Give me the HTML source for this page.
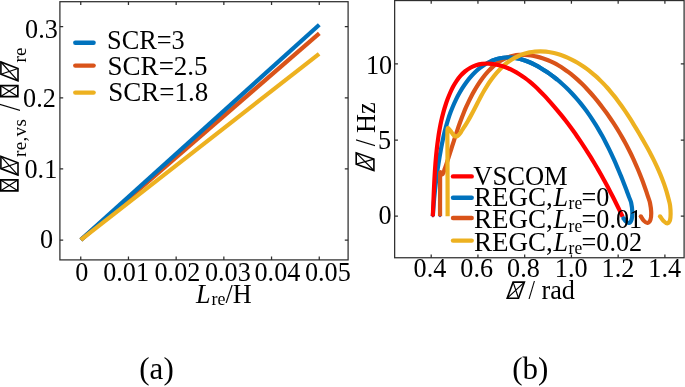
<!DOCTYPE html>
<html><head><meta charset="utf-8"><title>figure</title>
<style>
html,body{margin:0;padding:0;background:#fff;}
body{width:685px;height:387px;overflow:hidden;font-family:"Liberation Serif",serif;}
svg{display:block;will-change:transform;}
text,.t{font-family:"Liberation Serif",serif;}
</style></head><body>
<svg width="685" height="387" viewBox="0 0 685 387">
<rect width="685" height="387" fill="#fff"/>
<g fill="none" stroke="#2e2e2e" stroke-width="1.25">
<rect x="59.90" y="1.70" width="288.20" height="258.20"/>
<path d="M80.75 259.90 v-3.30 M80.75 1.70 v3.30 M128.45 259.90 v-3.30 M128.45 1.70 v3.30 M176.15 259.90 v-3.30 M176.15 1.70 v3.30 M223.85 259.90 v-3.30 M223.85 1.70 v3.30 M271.55 259.90 v-3.30 M271.55 1.70 v3.30 M319.25 259.90 v-3.30 M319.25 1.70 v3.30 M59.90 240.15 h3.30 M348.10 240.15 h-3.30 M59.90 168.95 h3.30 M348.10 168.95 h-3.30 M59.90 97.75 h3.30 M348.10 97.75 h-3.30 M59.90 26.55 h3.30 M348.10 26.55 h-3.30"/>
</g>
<g fill="none" stroke-width="4.2" stroke-linecap="butt">
<path d="M80.85 239.9 L319.30 33.30" stroke="#D95319"/>
<path d="M80.85 239.9 L319.30 24.70" stroke="#0072BD"/>
<path d="M80.85 239.9 L319.10 53.80" stroke="#EDB120"/>
</g>
<g class="t" fill="#000">
<text transform="translate(75.20 281.10) scale(0.970 1.050)" font-size="27" text-anchor="start">0</text>
<text transform="translate(103.20 281.10) scale(0.970 1.050)" font-size="27" text-anchor="start">0.01</text>
<text transform="translate(154.50 281.10) scale(0.970 1.050)" font-size="27" text-anchor="start">0.02</text>
<text transform="translate(204.90 281.10) scale(0.970 1.050)" font-size="27" text-anchor="start">0.03</text>
<text transform="translate(254.50 281.10) scale(0.970 1.050)" font-size="27" text-anchor="start">0.04</text>
<text transform="translate(304.90 281.10) scale(0.970 1.050)" font-size="27" text-anchor="start">0.05</text>
<text transform="translate(25.10 38.10) scale(0.970 1.050)" font-size="27" text-anchor="start">0.3</text>
<text transform="translate(23.10 107.10) scale(0.970 1.050)" font-size="27" text-anchor="start">0.2</text>
<text transform="translate(24.50 177.90) scale(0.970 1.050)" font-size="27" text-anchor="start">0.1</text>
<text transform="translate(40.10 248.40) scale(0.970 1.050)" font-size="27" text-anchor="start">0</text>
<text transform="translate(196.00 302.90) scale(0.970 1.000)" font-size="27" text-anchor="start"><tspan font-style="italic">L</tspan><tspan font-size="18.5" dx="1" dy="2.3">re</tspan><tspan dy="-2.3">/H</tspan></text>
<text transform="translate(107.00 49.00) scale(0.975 1.000)" font-size="27" text-anchor="start">SCR=3</text>
<text transform="translate(107.60 74.90) scale(1.000 1.000)" font-size="27" text-anchor="start">SCR=2.5</text>
<text transform="translate(108.20 101.00) scale(1.000 1.000)" font-size="27" text-anchor="start">SCR=1.8</text>
</g>
<g fill="none" stroke-width="4.4" stroke-linecap="round">
<path d="M75.3 42.80 H93.6" stroke="#0072BD"/>
<path d="M75.3 65.60 H93.6" stroke="#D95319"/>
<path d="M75.3 92.60 H93.6" stroke="#EDB120"/>
</g>
<g class="t" transform="translate(18.7 0.5) rotate(-90)">
<g transform="translate(-191.2 0)"><g fill="none" stroke="#000"><path d="M0.85 -0.85 H11.75 V-18.05 H0.85 Z" stroke-width="1.70"/><path d="M0.85 -0.85 L11.75 -18.05 M0.85 -18.05 L11.75 -0.85" stroke-width="1.20"/></g></g>
<g transform="translate(-174.6 0)"><g fill="none" stroke="#000"><path d="M0 -0.7 L12.30 -0.7 L18.80 -17.80 L6.50 -17.80 Z" stroke-width="1.60"/><path d="M0 -0.7 L18.80 -17.80 M12.30 -0.7 L6.50 -17.80" stroke-width="1.20"/></g></g>
<text transform="translate(-156.50 7.30) scale(1.000 1.000)" font-size="19" text-anchor="start" letter-spacing="0.35">re,vs</text>
<text transform="translate(-110.50 0.80) scale(0.850 1.000)" font-size="32" text-anchor="start">/</text>
<g transform="translate(-96.9 0)"><g fill="none" stroke="#000"><path d="M0.85 -0.85 H11.75 V-18.05 H0.85 Z" stroke-width="1.70"/><path d="M0.85 -0.85 L11.75 -18.05 M0.85 -18.05 L11.75 -0.85" stroke-width="1.20"/></g></g>
<g transform="translate(-80.3 0)"><g fill="none" stroke="#000"><path d="M0 -0.7 L12.30 -0.7 L18.80 -17.80 L6.50 -17.80 Z" stroke-width="1.60"/><path d="M0 -0.7 L18.80 -17.80 M12.30 -0.7 L6.50 -17.80" stroke-width="1.20"/></g></g>
<text transform="translate(-61.90 7.30) scale(1.000 1.000)" font-size="19" text-anchor="start">re</text>
</g>
<g fill="none" stroke="#2e2e2e" stroke-width="1.25">
<rect x="394.65" y="0.55" width="289.45" height="257.20"/>
<path d="M431.20 257.75 v-3.30 M431.20 0.55 v3.30 M477.94 257.75 v-3.30 M477.94 0.55 v3.30 M524.68 257.75 v-3.30 M524.68 0.55 v3.30 M571.42 257.75 v-3.30 M571.42 0.55 v3.30 M618.16 257.75 v-3.30 M618.16 0.55 v3.30 M664.90 257.75 v-3.30 M664.90 0.55 v3.30 M394.65 216.10 h3.30 M684.10 216.10 h-3.30 M394.65 140.00 h3.30 M684.10 140.00 h-3.30 M394.65 63.90 h3.30 M684.10 63.90 h-3.30"/>
</g>
<ellipse cx="440.0" cy="216.3" rx="1.1" ry="0.9" fill="#4B3FBF"/><ellipse cx="432.8" cy="216.4" rx="1.2" ry="0.9" fill="#C8001E"/>
<g fill="none" stroke-width="4.2" stroke-linecap="butt" stroke-linejoin="round">
<path d="M432.84 216.20C432.91 215.11 433.11 211.84 433.27 209.65C433.42 207.47 433.59 205.27 433.77 203.07C433.96 200.88 434.15 198.67 434.36 196.47C434.57 194.26 434.79 192.05 435.03 189.84C435.27 187.63 435.52 185.42 435.78 183.21C436.05 181.00 436.32 178.79 436.62 176.59C436.91 174.38 437.21 172.17 437.53 169.97C437.85 167.77 438.18 165.57 438.52 163.38C438.86 161.19 439.22 159.01 439.59 156.83C439.96 154.65 440.34 152.48 440.74 150.32C441.14 148.16 441.54 146.00 441.97 143.86C442.40 141.72 442.85 139.58 443.32 137.46C443.79 135.33 444.28 133.22 444.81 131.11C445.34 129.00 445.89 126.90 446.49 124.81C447.08 122.72 447.71 120.63 448.38 118.56C449.06 116.48 449.77 114.42 450.54 112.36C451.30 110.30 452.11 108.25 452.98 106.20C453.85 104.16 454.76 102.12 455.75 100.09C456.73 98.07 457.77 96.04 458.87 94.04C459.98 92.05 461.14 90.07 462.36 88.14C463.59 86.21 464.87 84.31 466.22 82.47C467.56 80.64 468.97 78.85 470.44 77.15C471.90 75.45 473.43 73.80 475.02 72.26C476.61 70.72 478.26 69.26 479.97 67.91C481.68 66.57 483.45 65.31 485.28 64.20C487.12 63.08 489.01 62.07 490.97 61.21C492.92 60.35 494.95 59.63 497.01 59.05C499.07 58.48 501.19 58.05 503.32 57.78C505.45 57.51 507.62 57.39 509.78 57.44C511.94 57.49 514.11 57.71 516.26 58.08C518.41 58.44 520.55 59.00 522.66 59.66C524.78 60.31 526.88 61.13 528.94 62.01C531.00 62.89 533.05 63.89 535.05 64.93C537.05 65.97 539.02 67.08 540.94 68.23C542.87 69.37 544.76 70.57 546.62 71.80C548.47 73.03 550.29 74.31 552.07 75.63C553.85 76.95 555.59 78.31 557.30 79.70C559.01 81.10 560.68 82.53 562.33 84.00C563.97 85.47 565.57 86.97 567.15 88.51C568.72 90.04 570.26 91.61 571.77 93.21C573.27 94.81 574.75 96.43 576.19 98.09C577.64 99.74 579.05 101.42 580.43 103.13C581.81 104.83 583.16 106.56 584.48 108.31C585.81 110.06 587.10 111.84 588.36 113.64C589.63 115.43 590.87 117.25 592.08 119.09C593.29 120.93 594.48 122.78 595.64 124.66C596.80 126.53 597.93 128.42 599.04 130.33C600.16 132.24 601.24 134.17 602.31 136.10C603.38 138.04 604.42 140.00 605.44 141.96C606.46 143.93 607.47 145.91 608.45 147.90C609.43 149.88 610.39 151.89 611.34 153.89C612.28 155.90 613.21 157.92 614.12 159.95C615.03 161.97 615.92 164.01 616.80 166.05C617.68 168.09 618.54 170.13 619.38 172.18C620.23 174.23 621.07 176.28 621.89 178.34C622.71 180.39 623.51 182.45 624.31 184.51C625.11 186.56 625.89 188.62 626.67 190.68C627.44 192.74 628.21 194.79 628.96 196.85C629.72 198.90 630.65 200.47 631.21 203.00C631.76 205.52 632.23 209.23 632.30 212.00C632.37 214.77 632.17 217.77 631.60 219.60C631.03 221.43 629.90 222.73 628.90 223.00C627.90 223.27 626.53 222.03 625.60 221.20C624.67 220.37 623.68 218.53 623.30 218.00" stroke="#0072BD"/><circle cx="623.30" cy="218.00" r="2.1" fill="#0072BD" stroke="none"/>
<path d="M440.05 216.20C440.05 213.50 440.04 205.20 440.05 200.00C440.06 194.80 440.09 189.00 440.10 185.00C440.11 181.00 440.07 178.12 440.10 176.00C440.13 173.88 440.10 172.82 440.30 172.30C440.50 171.78 440.95 172.57 441.30 172.90C441.65 173.23 442.02 174.42 442.40 174.30C442.78 174.18 443.23 173.03 443.60 172.20C443.97 171.37 444.11 170.74 444.60 169.30C445.10 167.87 445.92 165.50 446.57 163.59C447.21 161.69 447.83 159.78 448.45 157.88C449.07 155.97 449.68 154.06 450.29 152.16C450.90 150.26 451.49 148.35 452.10 146.45C452.70 144.55 453.30 142.65 453.90 140.76C454.51 138.86 455.11 136.97 455.73 135.08C456.34 133.19 456.97 131.31 457.60 129.43C458.24 127.55 458.88 125.68 459.55 123.81C460.21 121.95 460.89 120.09 461.59 118.23C462.29 116.38 463.01 114.54 463.76 112.70C464.50 110.86 465.27 109.03 466.07 107.21C466.87 105.40 467.69 103.59 468.55 101.79C469.41 99.99 470.30 98.20 471.23 96.42C472.16 94.65 473.12 92.88 474.13 91.13C475.13 89.38 476.18 87.63 477.27 85.91C478.36 84.18 479.50 82.46 480.68 80.78C481.87 79.09 483.10 77.42 484.38 75.81C485.67 74.20 487.00 72.62 488.38 71.12C489.77 69.62 491.20 68.16 492.69 66.82C494.18 65.47 495.72 64.18 497.32 63.02C498.92 61.86 500.57 60.78 502.28 59.85C504.00 58.91 505.77 58.08 507.59 57.41C509.42 56.73 511.31 56.19 513.23 55.78C515.15 55.38 517.12 55.11 519.09 54.96C521.07 54.81 523.08 54.80 525.07 54.89C527.06 54.97 529.07 55.20 531.03 55.49C533.00 55.78 534.95 56.18 536.87 56.63C538.79 57.09 540.68 57.63 542.54 58.24C544.41 58.85 546.24 59.53 548.05 60.28C549.86 61.03 551.64 61.85 553.40 62.72C555.16 63.60 556.88 64.54 558.59 65.53C560.29 66.53 561.97 67.58 563.62 68.68C565.27 69.79 566.89 70.94 568.50 72.14C570.10 73.34 571.67 74.59 573.22 75.88C574.77 77.17 576.30 78.50 577.80 79.86C579.30 81.23 580.77 82.63 582.23 84.06C583.68 85.50 585.11 86.96 586.51 88.45C587.92 89.94 589.30 91.45 590.66 92.99C592.02 94.52 593.35 96.08 594.67 97.65C595.98 99.22 597.27 100.81 598.54 102.40C599.80 104.00 601.05 105.60 602.27 107.22C603.50 108.83 604.70 110.45 605.88 112.08C607.06 113.71 608.22 115.34 609.36 116.99C610.50 118.63 611.62 120.28 612.71 121.95C613.81 123.61 614.89 125.28 615.94 126.95C617.00 128.63 618.04 130.32 619.06 132.02C620.08 133.71 621.07 135.42 622.05 137.13C623.03 138.84 623.99 140.56 624.94 142.30C625.88 144.03 626.80 145.77 627.71 147.52C628.62 149.27 629.50 151.03 630.37 152.80C631.25 154.56 632.10 156.34 632.94 158.13C633.77 159.92 634.59 161.72 635.39 163.52C636.20 165.33 636.98 167.15 637.76 168.98C638.53 170.80 639.28 172.64 640.02 174.49C640.76 176.34 641.48 178.19 642.19 180.06C642.90 181.93 643.59 183.81 644.27 185.70C644.95 187.59 645.62 189.49 646.27 191.40C646.92 193.31 647.56 195.24 648.18 197.17C648.80 199.10 649.51 200.53 650.01 203.00C650.51 205.47 651.12 209.23 651.20 212.00C651.28 214.77 651.13 217.77 650.50 219.60C649.87 221.43 648.53 222.83 647.40 223.00C646.27 223.17 644.80 221.72 643.70 220.60C642.60 219.48 641.28 217.02 640.80 216.30" stroke="#D95319"/><circle cx="640.80" cy="216.30" r="2.1" fill="#D95319" stroke="none"/>
<path d="M490.97 61.21C491.97 60.85 494.95 59.63 497.01 59.05C499.07 58.48 501.19 58.05 503.32 57.78C505.45 57.51 507.62 57.39 509.78 57.44C511.94 57.49 514.11 57.71 516.26 58.08C518.41 58.44 520.55 59.00 522.66 59.66C524.78 60.31 526.88 61.13 528.94 62.01C531.00 62.89 533.05 63.89 535.05 64.93C537.05 65.97 539.02 67.08 540.94 68.23C542.87 69.37 544.76 70.57 546.62 71.80C548.47 73.03 550.29 74.31 552.07 75.63C553.85 76.95 556.43 79.02 557.30 79.70" stroke="#0072BD"/>
<path d="M447.60 216.20C447.60 213.50 447.62 209.37 447.60 200.00C447.58 190.63 447.53 170.00 447.50 160.00C447.47 150.00 447.42 144.67 447.40 140.00C447.38 135.33 447.33 133.98 447.40 132.00C447.47 130.02 447.45 128.50 447.80 128.10C448.15 127.70 448.88 128.92 449.50 129.60C450.12 130.28 450.83 131.32 451.50 132.20C452.17 133.08 452.85 134.20 453.50 134.90C454.15 135.60 454.72 136.23 455.40 136.40C456.08 136.57 456.83 136.38 457.60 135.90C458.37 135.42 459.25 134.47 460.00 133.50C460.75 132.53 461.26 131.41 462.11 130.10C462.96 128.78 464.14 127.14 465.11 125.61C466.08 124.09 467.02 122.52 467.94 120.94C468.86 119.36 469.75 117.75 470.64 116.12C471.52 114.49 472.39 112.84 473.26 111.18C474.13 109.52 474.99 107.85 475.85 106.17C476.72 104.49 477.59 102.80 478.47 101.12C479.35 99.43 480.24 97.74 481.15 96.06C482.07 94.39 482.99 92.71 483.95 91.05C484.91 89.39 485.90 87.74 486.92 86.11C487.94 84.49 488.99 82.87 490.08 81.30C491.17 79.72 492.30 78.17 493.46 76.66C494.63 75.16 495.83 73.68 497.07 72.27C498.32 70.85 499.61 69.47 500.94 68.16C502.27 66.86 503.64 65.60 505.07 64.41C506.49 63.23 507.97 62.11 509.48 61.07C511.00 60.03 512.57 59.06 514.17 58.18C515.77 57.29 517.42 56.48 519.09 55.75C520.76 55.03 522.47 54.38 524.20 53.83C525.93 53.28 527.70 52.80 529.48 52.43C531.25 52.05 533.06 51.77 534.87 51.58C536.68 51.39 538.51 51.30 540.34 51.30C542.17 51.31 544.02 51.42 545.86 51.61C547.70 51.81 549.54 52.10 551.38 52.47C553.21 52.83 555.04 53.29 556.85 53.80C558.67 54.32 560.47 54.92 562.25 55.57C564.02 56.21 565.78 56.93 567.51 57.69C569.24 58.45 570.94 59.26 572.61 60.12C574.28 60.97 575.91 61.87 577.52 62.81C579.12 63.75 580.70 64.73 582.25 65.75C583.79 66.77 585.31 67.83 586.80 68.92C588.29 70.02 589.76 71.15 591.19 72.32C592.63 73.48 594.04 74.68 595.43 75.91C596.81 77.14 598.17 78.41 599.51 79.70C600.85 80.99 602.16 82.31 603.45 83.65C604.74 85.00 606.01 86.37 607.26 87.77C608.51 89.16 609.73 90.58 610.94 92.03C612.15 93.47 613.33 94.93 614.50 96.41C615.67 97.89 616.82 99.39 617.95 100.91C619.08 102.42 620.19 103.96 621.29 105.51C622.39 107.05 623.47 108.61 624.54 110.18C625.61 111.75 626.66 113.34 627.70 114.93C628.74 116.52 629.76 118.12 630.78 119.73C631.79 121.33 632.79 122.95 633.78 124.56C634.77 126.18 635.75 127.80 636.72 129.42C637.69 131.04 638.65 132.66 639.60 134.28C640.55 135.90 641.49 137.52 642.43 139.14C643.36 140.76 644.29 142.38 645.20 143.99C646.11 145.61 647.01 147.23 647.90 148.85C648.79 150.48 649.66 152.10 650.52 153.73C651.38 155.36 652.23 156.99 653.06 158.63C653.89 160.28 654.70 161.92 655.49 163.58C656.29 165.23 657.06 166.89 657.82 168.57C658.57 170.24 659.31 171.92 660.02 173.61C660.74 175.31 661.43 177.01 662.10 178.73C662.76 180.45 663.41 182.18 664.03 183.92C664.64 185.67 665.24 187.43 665.80 189.21C666.37 190.99 666.91 192.78 667.41 194.59C667.92 196.41 668.40 198.23 668.85 200.09C669.30 201.94 669.82 203.38 670.11 205.70C670.40 208.02 670.62 211.58 670.60 214.00C670.58 216.42 670.57 218.65 670.00 220.20C669.43 221.75 668.32 223.20 667.20 223.30C666.08 223.40 664.50 221.97 663.30 220.80C662.10 219.63 660.55 217.05 660.00 216.30" stroke="#EDB120"/><circle cx="660.00" cy="216.30" r="2.1" fill="#EDB120" stroke="none"/>
<path d="M432.80 216.20C432.84 215.10 432.99 211.81 433.09 209.61C433.18 207.42 433.27 205.23 433.36 203.03C433.45 200.84 433.54 198.65 433.63 196.46C433.72 194.27 433.81 192.08 433.91 189.89C434.01 187.70 434.11 185.51 434.22 183.33C434.33 181.14 434.44 178.96 434.56 176.77C434.69 174.59 434.82 172.41 434.96 170.23C435.11 168.05 435.26 165.87 435.43 163.70C435.60 161.52 435.78 159.35 435.98 157.18C436.17 155.01 436.39 152.84 436.62 150.67C436.85 148.50 437.10 146.34 437.37 144.17C437.65 142.01 437.94 139.85 438.25 137.69C438.57 135.53 438.90 133.38 439.27 131.22C439.64 129.07 440.03 126.92 440.46 124.77C440.89 122.62 441.35 120.48 441.86 118.33C442.37 116.19 442.91 114.05 443.50 111.91C444.09 109.77 444.72 107.63 445.41 105.50C446.10 103.36 446.83 101.23 447.63 99.10C448.43 96.98 449.28 94.84 450.20 92.76C451.13 90.68 452.11 88.60 453.18 86.62C454.25 84.64 455.39 82.69 456.64 80.87C457.88 79.04 459.20 77.29 460.63 75.68C462.06 74.08 463.59 72.58 465.22 71.25C466.85 69.92 468.59 68.72 470.39 67.71C472.20 66.70 474.10 65.85 476.04 65.20C477.99 64.55 480.01 64.09 482.07 63.81C484.12 63.53 486.23 63.46 488.35 63.53C490.46 63.60 492.62 63.85 494.76 64.22C496.90 64.60 499.07 65.13 501.19 65.76C503.31 66.40 505.44 67.17 507.50 68.02C509.56 68.86 511.60 69.83 513.57 70.85C515.54 71.87 517.46 72.99 519.33 74.16C521.20 75.33 523.02 76.58 524.80 77.87C526.58 79.17 528.31 80.54 530.01 81.95C531.71 83.35 533.37 84.82 535.00 86.31C536.63 87.80 538.22 89.34 539.79 90.91C541.36 92.47 542.90 94.07 544.41 95.68C545.93 97.29 547.42 98.93 548.90 100.57C550.38 102.21 551.83 103.87 553.27 105.53C554.71 107.20 556.13 108.88 557.54 110.57C558.94 112.25 560.33 113.95 561.70 115.66C563.06 117.37 564.42 119.10 565.75 120.83C567.09 122.56 568.41 124.30 569.71 126.05C571.02 127.80 572.30 129.57 573.58 131.34C574.85 133.11 576.11 134.89 577.35 136.68C578.59 138.47 579.82 140.27 581.04 142.08C582.25 143.89 583.45 145.71 584.64 147.54C585.83 149.37 587.00 151.20 588.16 153.05C589.32 154.89 590.47 156.75 591.61 158.61C592.74 160.47 593.86 162.34 594.98 164.22C596.09 166.10 597.19 167.98 598.28 169.87C599.37 171.77 600.45 173.67 601.51 175.58C602.58 177.48 603.64 179.40 604.69 181.32C605.73 183.24 606.77 185.17 607.80 187.11C608.83 189.04 609.85 190.99 610.86 192.93C611.87 194.88 612.87 196.84 613.86 198.80C614.86 200.76 615.84 202.73 616.82 204.70C617.80 206.67 618.77 208.65 619.73 210.63C620.70 212.62 622.12 215.61 622.60 216.60" stroke="#FF0000"/>
</g>
<g fill="none" stroke-width="4.4" stroke-linecap="round">
<path d="M453.0 176.40 H471.7" stroke="#FF0000"/>
<path d="M453.0 197.80 H471.7" stroke="#0072BD"/>
<path d="M453.0 218.00 H471.7" stroke="#D95319"/>
<path d="M453.0 240.60 H471.7" stroke="#EDB120"/>
</g>
<g class="t" fill="#000">
<text transform="translate(413.60 277.20) scale(0.970 1.050)" font-size="27" text-anchor="start">0.4</text>
<text transform="translate(460.34 277.20) scale(0.970 1.050)" font-size="27" text-anchor="start">0.6</text>
<text transform="translate(507.08 277.20) scale(0.970 1.050)" font-size="27" text-anchor="start">0.8</text>
<text transform="translate(554.82 277.20) scale(0.970 1.050)" font-size="27" text-anchor="start">1.0</text>
<text transform="translate(601.56 277.20) scale(0.970 1.050)" font-size="27" text-anchor="start">1.2</text>
<text transform="translate(648.30 277.20) scale(0.970 1.050)" font-size="27" text-anchor="start">1.4</text>
<text transform="translate(378.50 223.80) scale(0.970 1.050)" font-size="27" text-anchor="start">0</text>
<text transform="translate(377.90 148.80) scale(0.970 1.050)" font-size="27" text-anchor="start">5</text>
<text transform="translate(366.00 74.00) scale(0.970 1.050)" font-size="27" text-anchor="start">10</text>
<text transform="translate(473.20 184.80) scale(0.985 1.000)" font-size="27" text-anchor="start">VSCOM</text>
<text transform="translate(474.10 206.00) scale(1.000 1.000)" font-size="27" text-anchor="start">REGC,</text>
<text transform="translate(553.55 206.00) scale(0.970 1.000)" font-size="27" text-anchor="start"><tspan font-style="italic">L</tspan><tspan font-size="18" dx="0.5" dy="3.1">re</tspan><tspan dx="-0.6" dy="-3.1">=0</tspan></text>
<text transform="translate(474.10 228.40) scale(1.000 1.000)" font-size="27" text-anchor="start">REGC,</text>
<text transform="translate(553.55 228.40) scale(0.970 1.000)" font-size="27" text-anchor="start"><tspan font-style="italic">L</tspan><tspan font-size="18" dx="0.5" dy="3.1">re</tspan><tspan dx="-0.6" dy="-3.1">=0.01</tspan></text>
<text transform="translate(474.10 251.10) scale(1.000 1.000)" font-size="27" text-anchor="start">REGC,</text>
<text transform="translate(553.55 251.10) scale(0.970 1.000)" font-size="27" text-anchor="start"><tspan font-style="italic">L</tspan><tspan font-size="18" dx="0.5" dy="3.1">re</tspan><tspan dx="-0.6" dy="-3.1">=0.02</tspan></text>
<g transform="translate(507.2 298.9)"><g fill="none" stroke="#000"><path d="M0 -0.7 L11.30 -0.7 L17.20 -16.80 L5.90 -16.80 Z" stroke-width="1.60"/><path d="M0 -0.7 L17.20 -16.80 M11.30 -0.7 L5.90 -16.80" stroke-width="1.20"/></g></g>
<text transform="translate(528.50 299.40) scale(0.830 1.000)" font-size="28" text-anchor="start">/</text>
<text transform="translate(541.50 298.90) scale(0.970 1.000)" font-size="27" text-anchor="start">rad</text>
</g>
<g class="t" transform="translate(374.6 0) rotate(-90)">
<g transform="translate(-170.5 0)"><g fill="none" stroke="#000"><path d="M0 -0.7 L11.40 -0.7 L17.70 -18.40 L6.30 -18.40 Z" stroke-width="1.60"/><path d="M0 -0.7 L17.70 -18.40 M11.40 -0.7 L6.30 -18.40" stroke-width="1.20"/></g></g>
<text transform="translate(-146.30 0.30) scale(0.870 1.000)" font-size="29" text-anchor="start">/</text>
<text transform="translate(-132.90 0.00) scale(0.970 1.000)" font-size="27" text-anchor="start">Hz</text>
</g>
<g class="t" fill="#000">
<text transform="translate(156.50 378.90) scale(1.000 1.000)" font-size="31" text-anchor="middle">(a)</text>
<text transform="translate(530.30 378.90) scale(1.000 1.000)" font-size="31" text-anchor="middle">(b)</text>
</g>
</svg>
</body></html>
